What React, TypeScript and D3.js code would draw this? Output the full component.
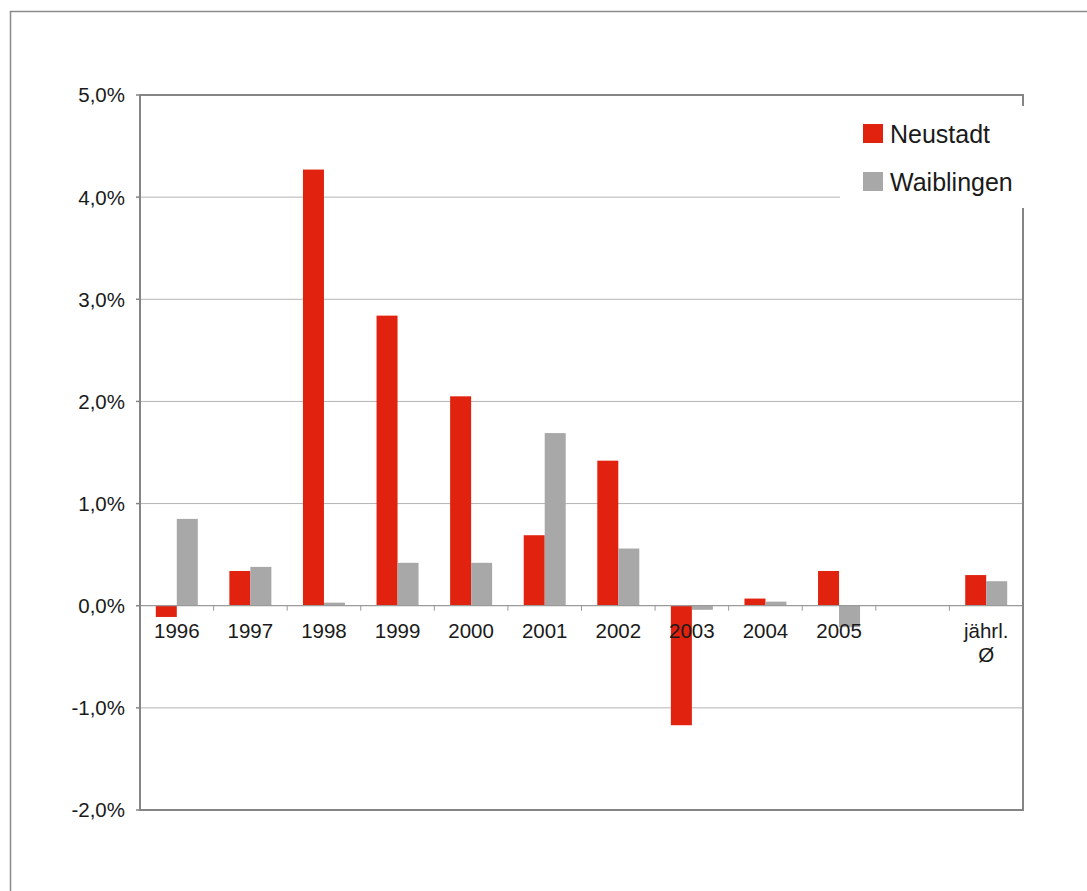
import { useEffect } from 'react';
import * as d3 from 'd3';

const categories = ['1996', '1997', '1998', '1999', '2000', '2001', '2002', '2003', '2004', '2005', 'gap', 'avg'];
const categoryLabels = ['1996', '1997', '1998', '1999', '2000', '2001', '2002', '2003', '2004', '2005', '', 'jährl.\nØ'];
const neustadt = [-0.11, 0.34, 4.27, 2.84, 2.05, 0.69, 1.42, -1.17, 0.07, 0.34, null, 0.3];
const waiblingen = [0.85, 0.38, 0.03, 0.42, 0.42, 1.69, 0.56, -0.04, 0.04, -0.21, null, 0.24];
const seriesNames = ['Neustadt', 'Waiblingen'];
const seriesColors = ['#e1220f', '#a8a8a8'];
const yTicks = [5, 4, 3, 2, 1, 0, -1, -2];

export default function App() {
  useEffect(() => {
    document.body.style.margin = '0';
  }, []);

  const width = 1087;
  const height = 891;
  const left = 140;
  const right = 1023;
  const top = 95;
  const bottom = 810;
  const font = 'Helvetica, Arial, "Liberation Sans", sans-serif';

  const y = d3.scaleLinear().domain([-2, 5]).range([bottom, top]);
  const x0 = d3.scaleBand<string>().domain(categories).range([left, right]).paddingInner(0).paddingOuter(0);
  const groupW = 42;
  const x1 = d3.scaleBand<string>().domain(seriesNames).range([0, groupW]);
  const fmt = (v: number) => d3.format('.1f')(v).replace('.', ',').replace('−', '-') + '%';
  const series = [neustadt, waiblingen];
  const y0 = y(0);

  return (
    <svg width={width} height={height} style={{ display: 'block', background: '#fff' }}>
      <rect x={10.5} y={11.5} width={1200} height={1000} fill="none" stroke="#8a8a8a" strokeWidth={1.5} />

      {yTicks.filter(t => t !== 5 && t !== -2 && t !== 0).map(t => (
        <line key={'g' + t} x1={left} x2={right} y1={y(t)} y2={y(t)} stroke="#b4b4b4" strokeWidth={1} />
      ))}

      {series.map((vals, si) =>
        vals.map((v, i) => {
          if (v === null) return null;
          const bx = (x0(categories[i]) as number) + (x0.bandwidth() - groupW) / 2 + (x1(seriesNames[si]) as number);
          return (
            <rect
              key={si + '-' + i}
              x={bx}
              y={Math.min(y(v), y0)}
              width={x1.bandwidth()}
              height={Math.abs(y(v) - y0)}
              fill={seriesColors[si]}
            />
          );
        })
      )}

      {/* zero line with category ticks */}
      <line x1={left} x2={right} y1={y0} y2={y0} stroke="#9a9a9a" strokeWidth={1.2} />
      {categories.map((c, i) => (
        i === 0 ? null :
        <line key={'ct' + c} x1={x0(c) as number} x2={x0(c) as number} y1={y0} y2={y0 + 5} stroke="#9a9a9a" strokeWidth={1} />
      ))}

      {/* plot frame */}
      <rect x={left} y={top} width={right - left} height={bottom - top} fill="none" stroke="#858585" strokeWidth={2} />

      {/* y ticks */}
      {yTicks.map(t => (
        <g key={'yt' + t}>
          <line x1={left - 4} x2={left} y1={y(t)} y2={y(t)} stroke="#858585" strokeWidth={1.5} />
          <text x={125} y={y(t)} dy="0.36em" textAnchor="end" fontFamily={font} fontSize={20.5} fill="#1a1a1a">
            {fmt(t)}
          </text>
        </g>
      ))}

      {/* x labels */}
      {categoryLabels.map((lab, i) => {
        const cx = (x0(categories[i]) as number) + x0.bandwidth() / 2;
        const lines = lab.split('\n');
        return (
          <text key={'xl' + i} x={cx} y={638} textAnchor="middle" fontFamily={font} fontSize={20.5} fill="#1a1a1a">
            {lines.map((ln, j) => (
              <tspan key={j} x={cx} dy={j === 0 ? 0 : 24}>{ln}</tspan>
            ))}
          </text>
        );
      })}

      {/* legend */}
      <rect x={840} y={106} width={192} height={102} fill="#fff" />
      {seriesNames.map((n, i) => (
        <g key={'lg' + n} transform={`translate(863, ${124 + i * 48})`}>
          <rect x={0} y={0} width={20} height={19} fill={seriesColors[i]} />
          <text x={27} y={19} fontFamily={font} fontSize={25} fill="#1a1a1a">{n}</text>
        </g>
      ))}
    </svg>
  );
}
